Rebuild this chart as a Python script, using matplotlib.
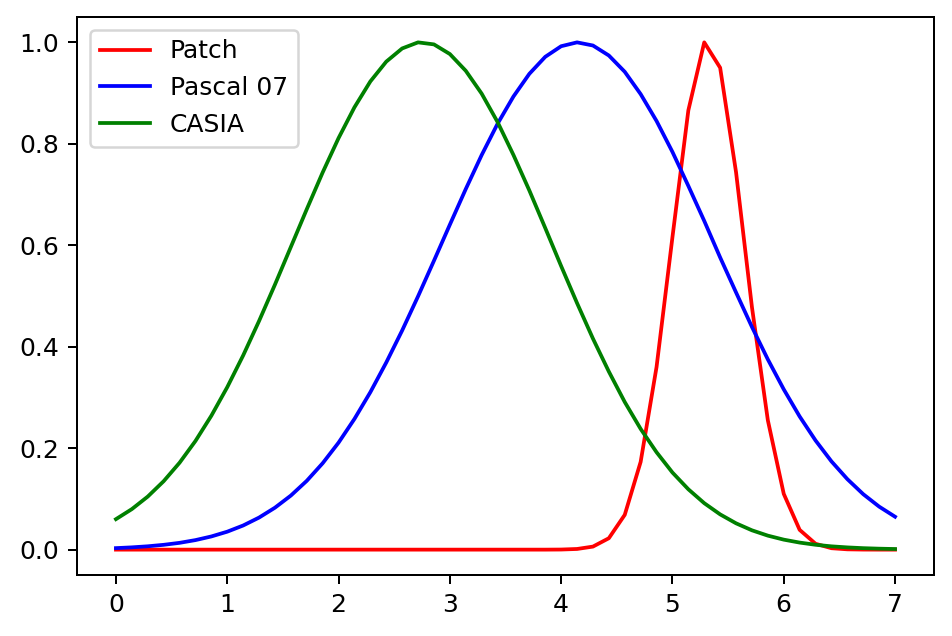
import matplotlib
matplotlib.use('Agg')
import matplotlib.pyplot as plt

# sample positions (50 points from 0 to 7)
x = [i * 7 / 49 for i in range(50)]

patch = [0.0] * 28 + [
    0.0002, 0.0013, 0.006, 0.0225, 0.0686, 0.173, 0.360, 0.616, 0.866, 1.0,
    0.95, 0.744, 0.478, 0.255, 0.11, 0.039, 0.0116, 0.0028, 0.0006, 0.0001,
    0.0, 0.0]

pascal = [
    0.0030, 0.0045, 0.0066, 0.0095, 0.0134, 0.0188, 0.0260, 0.0354, 0.0476, 0.0632,
    0.0827, 0.1066, 0.1356, 0.1703, 0.2109, 0.2577, 0.3104, 0.3689, 0.4320, 0.4994,
    0.5695, 0.6406, 0.7108, 0.7778, 0.8395, 0.8933, 0.938, 0.9715, 0.9924, 1.0,
    0.9938, 0.9741, 0.942, 0.898, 0.845, 0.784, 0.717, 0.648, 0.576, 0.507,
    0.439, 0.375, 0.316, 0.2625, 0.2152, 0.1740, 0.1390, 0.1093, 0.0848, 0.0649]

casia = [
    0.0601, 0.0799, 0.1046, 0.1349, 0.1713, 0.2142, 0.2640, 0.3203, 0.3828, 0.4507,
    0.5225, 0.5967, 0.671, 0.7435, 0.8113, 0.872, 0.923, 0.962, 0.988, 1.0,
    0.996, 0.977, 0.944, 0.899, 0.843, 0.778, 0.708, 0.634, 0.559, 0.486,
    0.416, 0.351, 0.291, 0.238, 0.192, 0.152, 0.119, 0.0916, 0.0695, 0.0519,
    0.0381, 0.0276, 0.0197, 0.0139, 0.0096, 0.0065, 0.0044, 0.0029, 0.0019, 0.0012]

dpi = 180
fig = plt.figure(figsize=(952 / dpi, 636 / dpi), dpi=dpi)
ax = fig.add_axes([77 / 952, 1 - 575 / 636, (934 - 77) / 952, (575 - 17) / 636])

ax.plot(x, patch, color='red', label='Patch')
ax.plot(x, pascal, color='blue', label='Pascal 07')
ax.plot(x, casia, color='green', label='CASIA')

ax.legend(loc='upper left')

fig.savefig('out.png', dpi=dpi)
